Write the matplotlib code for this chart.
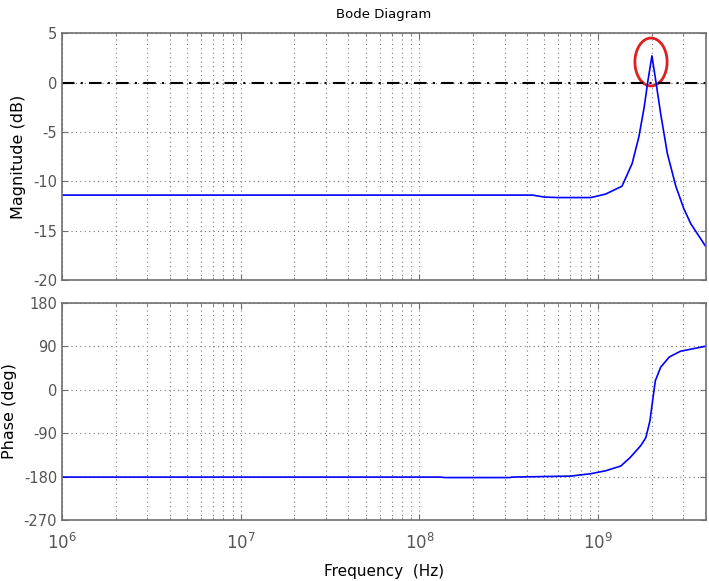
import numpy as np
import matplotlib
matplotlib.use('Agg')
import matplotlib.pyplot as plt
from matplotlib.patches import Ellipse
from matplotlib.ticker import LogLocator, NullFormatter, FixedLocator

# magnitude response (Hz, dB)
mag_freq = [1e6, 1e7, 1e8, 4.3e8, 5e8, 6e8, 9.1e8, 1.1e9, 1.36e9, 1.55e9, 1.69e9,
            1.81e9, 1.9e9, 2.0e9, 2.1e9, 2.24e9, 2.44e9, 2.72e9, 3.02e9, 3.3e9, 4.0e9]
mag_db = [-11.4, -11.4, -11.4, -11.4, -11.6, -11.65, -11.65, -11.3, -10.5, -8.2,
          -5.5, -2.5, 0.2, 2.7, 0.2, -3.2, -7.2, -10.5, -12.8, -14.3, -16.6]

# phase response (Hz, deg)
ph_freq = [1e6, 1e7, 1.3e8, 1.4e8, 3.2e8, 3.3e8, 7e8, 9.1e8, 1.1e9, 1.34e9, 1.51e9,
           1.73e9, 1.85e9, 1.95e9, 2.03e9, 2.09e9, 2.24e9, 2.5e9, 2.89e9, 3.6e9, 4.0e9]
ph_deg = [-181, -181, -181, -182, -182, -181, -179, -174, -168, -158, -140.5,
          -116, -99, -64, -15, 19, 47, 68, 80, 87, 90.5]

mag_ticks = [-20, -15, -10, -5, 0, 5]
ph_ticks = [-270, -180, -90, 0, 90, 180]

GRAY = '#707070'
plt.rcParams['font.family'] = ['DejaVu Sans']
plt.rcParams['axes.unicode_minus'] = False
fig = plt.figure(figsize=(7.09, 5.81), dpi=100)

ax1 = fig.add_axes([0.0874, 0.518, 0.908, 0.425])
ax2 = fig.add_axes([0.0874, 0.105, 0.908, 0.3735])

for ax in (ax1, ax2):
    ax.set_xscale('log')
    ax.set_xlim(1e6, 4e9)
    ax.xaxis.set_major_locator(LogLocator(base=10, numticks=10))
    ax.xaxis.set_minor_locator(LogLocator(base=10, subs=np.arange(2, 10), numticks=20))
    ax.xaxis.set_minor_formatter(NullFormatter())
    ax.grid(which='major', color='#7a7a7a', linestyle=(0, (1, 3)), linewidth=0.8)
    ax.grid(which='minor', axis='x', color='#7a7a7a', linestyle=(0, (1, 3)), linewidth=0.8)
    ax.tick_params(which='both', direction='in', top=True, right=True,
                   colors=GRAY, labelcolor='#555555', labelsize=10.5)
    ax.tick_params(which='major', length=4)
    ax.tick_params(which='minor', length=2)
    for sp in ax.spines.values():
        sp.set_edgecolor(GRAY)
        sp.set_linewidth(1.2)

# magnitude
ax1.plot(mag_freq, mag_db, color='#0000ff', linewidth=1.2)
ax1.axhline(0, color='black', linewidth=1.5, linestyle=(0, (6, 3, 1, 3)))
ax1.set_ylim(-20, 5)
ax1.yaxis.set_major_locator(FixedLocator(mag_ticks))
ax1.tick_params(axis='x', which='both', labelbottom=False)
ax1.set_ylabel('Magnitude (dB)', fontsize=11.5, labelpad=5)
ax1.set_title('Bode Diagram', fontsize=9.5, pad=11)
ax1.add_patch(Ellipse((0.915, 0.883), 0.05, 0.194, transform=ax1.transAxes,
                      fill=False, edgecolor='#e02020', linewidth=2))

# phase
ax2.plot(ph_freq, ph_deg, color='#0000ff', linewidth=1.2)
ax2.set_ylim(-270, 180)
ax2.yaxis.set_major_locator(FixedLocator(ph_ticks))
ax2.tick_params(axis='x', which='major', pad=9, labelsize=12)
ax2.set_ylabel('Phase (deg)', fontsize=11.5, labelpad=5)
ax2.set_xlabel('Frequency  (Hz)', fontsize=11, labelpad=8)

fig.savefig('out.png', dpi=100)
